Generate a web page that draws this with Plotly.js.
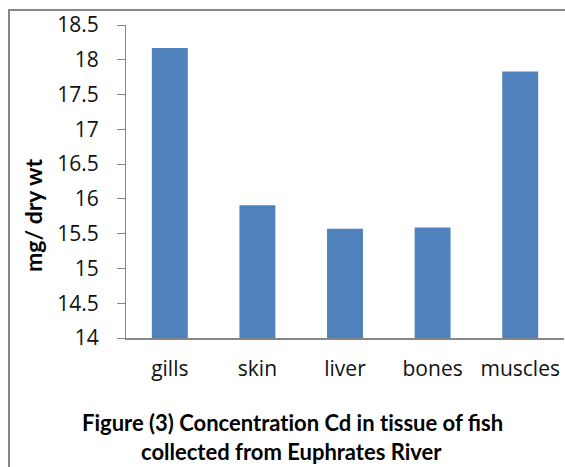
<!DOCTYPE html>
<html>
<head>
<meta charset="utf-8">
<script src="https://cdn.plot.ly/plotly-3.0.1.min.js"></script>
<style>
  html, body { margin: 0; padding: 0; background: #fff; }
  #chart { width: 565px; height: 467px; }
</style>
</head>
<body>
<div id="chart"></div>
<script>
const categories = ["gills", "skin", "liver", "bones", "muscles"];
const values = [18.17, 15.91, 15.57, 15.59, 17.83];
const yTicks = [14, 14.5, 15, 15.5, 16, 16.5, 17, 17.5, 18, 18.5];
const yTickLabels = ["14", "14.5", "15", "15.5", "16", "16.5", "17", "17.5", "18", "18.5"];
const titleLines = ["Figure (3) Concentrat\u200Cion Cd in t\u200Cissue of fish", "collected from Euphrates River"];
const yTitle = "mg/ dry wt";

const L = 126, R = 1, T = 25, B = 129, W = 565, H = 467;
const pw = W - L - R, ph = H - T - B;
const px2x = p => (p - L) / pw;
const py2y = p => (H - B - p) / ph;

const trace = {
  type: "bar",
  x: categories,
  y: values,
  marker: { color: "#4F81BD" },
  hoverinfo: "x+y"
};

const gray = "#868686";
const layout = {
  width: W, height: H,
  margin: { l: L, r: R, t: T, b: B, pad: 0 },
  paper_bgcolor: "#ffffff",
  plot_bgcolor: "#ffffff",
  showlegend: false,
  bargap: 0.59,
  font: { family: "Open Sans, sans-serif", color: "#000" },
  xaxis: {
    type: "category",
    showline: true, linecolor: gray, linewidth: 2,
    ticks: "", showgrid: false, zeroline: false,
    tickfont: { size: 21, family: "Open Sans, sans-serif", color: "#111" },
    ticklabelstandoff: 11
  },
  yaxis: {
    range: [14, 18.5],
    tickvals: yTicks, ticktext: yTickLabels,
    showline: true, linecolor: gray, linewidth: 1,
    ticks: "outside", ticklen: 8, tickcolor: gray, tickwidth: 1,
    showgrid: false, zeroline: false,
    tickfont: { size: 21, family: "Open Sans, sans-serif", color: "#111" },
    ticklabelstandoff: 14
  },
  shapes: [
    { type: "line", xref: "paper", yref: "paper", x0: px2x(9), x1: px2x(9), y0: py2y(10), y1: py2y(480), line: { color: gray, width: 2 } },
    { type: "line", xref: "paper", yref: "paper", x0: px2x(8), x1: px2x(575), y0: py2y(10), y1: py2y(10), line: { color: gray, width: 2 } }
  ],
  annotations: [
    { xref: "paper", yref: "paper", x: px2x(33), y: py2y(216), text: "<b>" + yTitle + "</b>", textangle: -90, showarrow: false,
      font: { size: 23, family: "Lato, sans-serif", color: "#000" }, xanchor: "center", yanchor: "middle" },
    { xref: "paper", yref: "paper", x: px2x(292), y: py2y(423), text: "<b>" + titleLines[0] + "</b>", showarrow: false,
      font: { size: 22, family: "Lato, sans-serif", color: "#000" }, xanchor: "center", yanchor: "middle" },
    { xref: "paper", yref: "paper", x: px2x(291), y: py2y(451), text: "<b>" + titleLines[1] + "</b>", showarrow: false,
      font: { size: 22, family: "Lato, sans-serif", color: "#000" }, xanchor: "center", yanchor: "middle" }
  ]
};

Plotly.newPlot("chart", [trace], layout, { displayModeBar: false, responsive: false });
</script>
</body>
</html>
